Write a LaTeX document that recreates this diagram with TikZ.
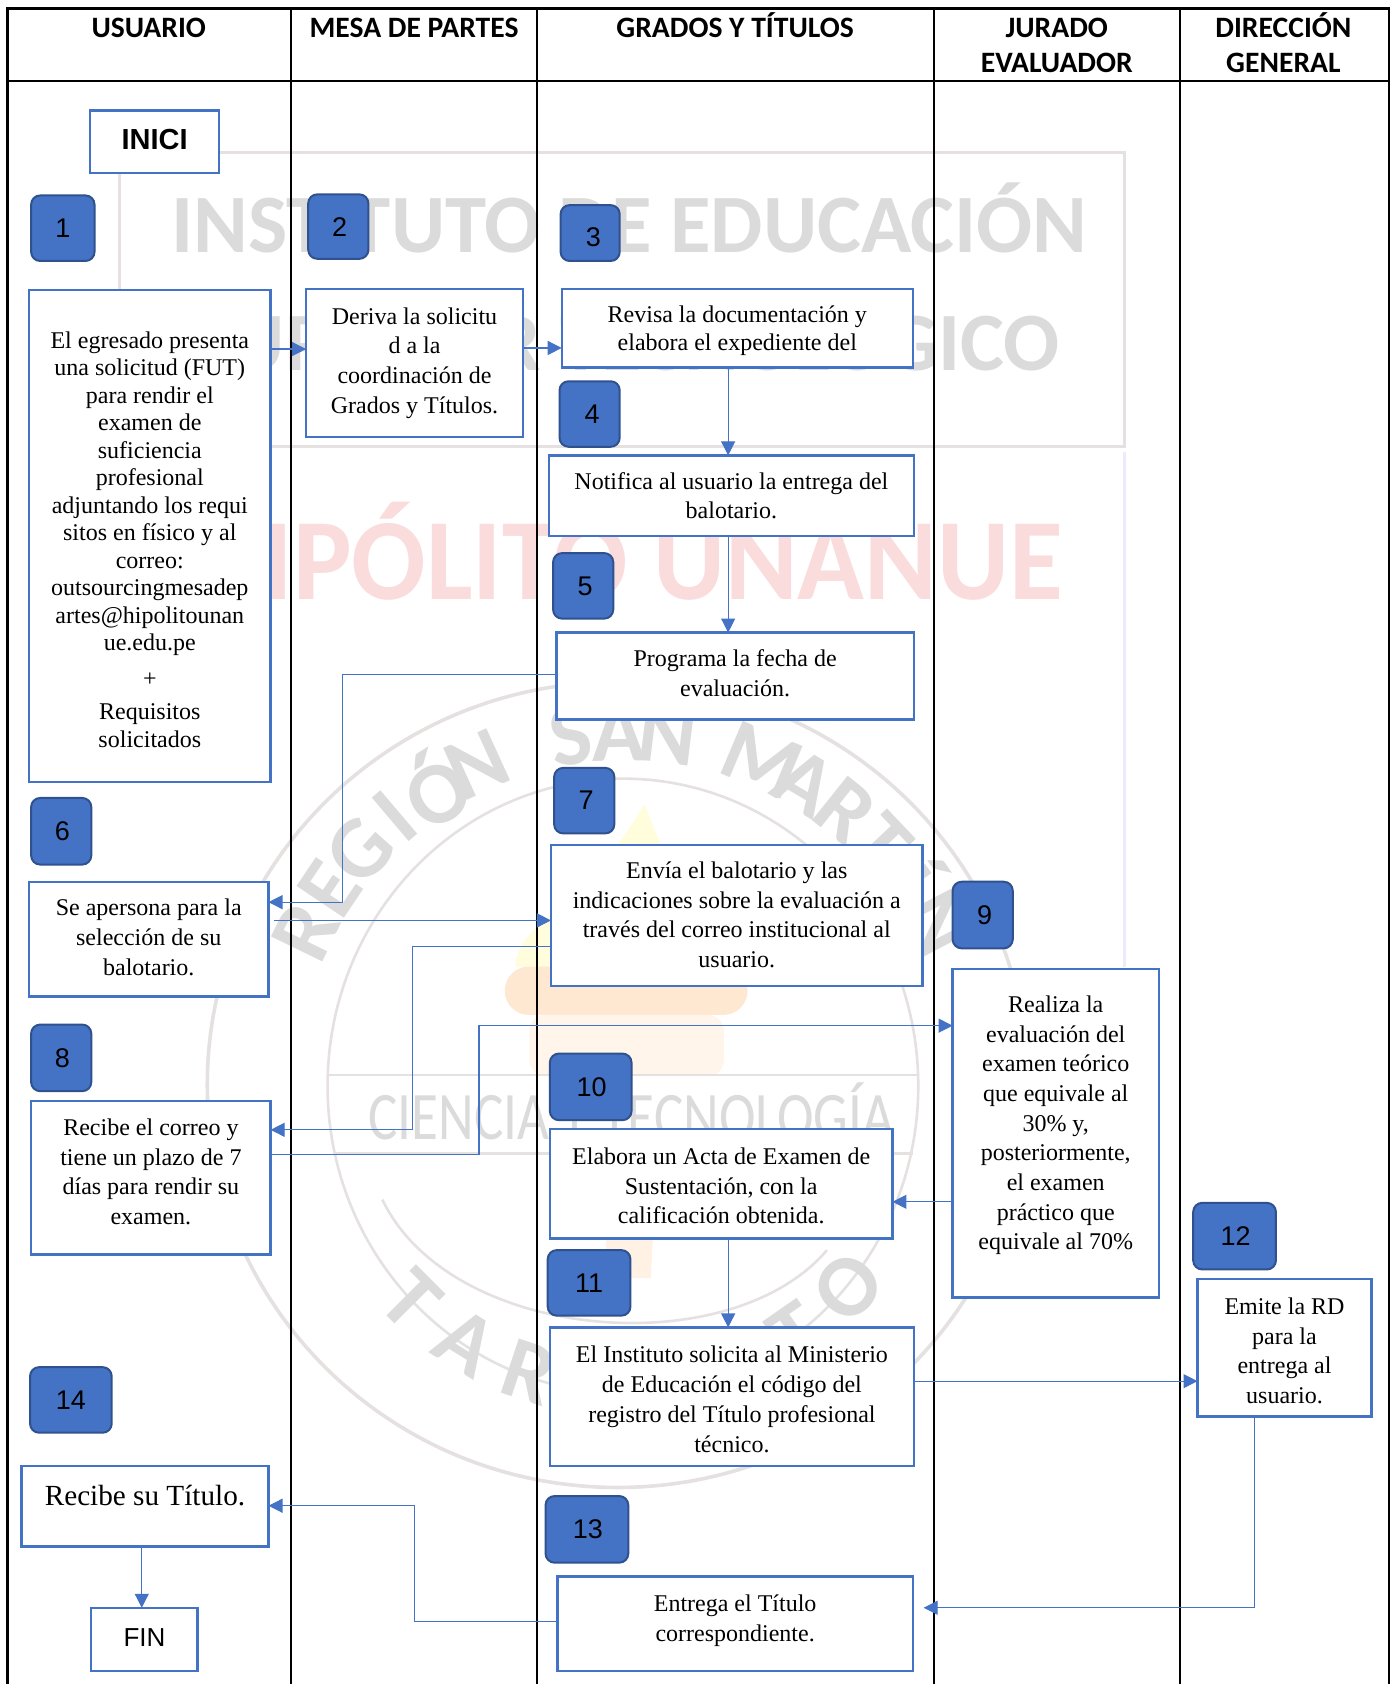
\documentclass[tikz,border=0pt]{standalone}
\usepackage{fontspec}
\setmainfont{Liberation Serif}
\newfontfamily\hdfont{Carlito}
\newfontfamily\arialf{Liberation Sans}
\usetikzlibrary{arrows.meta,calc}
\definecolor{bl}{HTML}{4472C4}
\definecolor{bld}{HTML}{2F528F}
\definecolor{wmg}{HTML}{DBDBDB}
\definecolor{wml}{HTML}{E6E1E1}
\definecolor{wmr}{HTML}{FADCDC}
\tikzset{
 box/.style={draw=bl,line width=1.2pt,fill=white,inner sep=0pt,outer sep=0pt,align=center,text=black},
 num/.style={draw=bld,line width=1pt,fill=bl,rounded corners=4.5pt,inner sep=0pt,outer sep=0pt,align=center,text=black,font=\arialf\fontsize{13.5}{16}\selectfont},
 link/.style={draw=bl,line width=0.6pt,-{Triangle[length=7pt,width=7pt]}},
 grid/.style={draw=black,line width=1.1pt},
 hd/.style={font=\hdfont\bfseries\fontsize{14.8}{17.7}\selectfont,align=center,inner sep=0pt,text=black},
 bodyA/.style={font=\fontsize{12}{13.75}\selectfont},
 bodyB/.style={font=\fontsize{12}{14.85}\selectfont},
 wmt/.style={inner sep=0pt,font=\hdfont\bfseries\fontsize{41.5}{44}\selectfont,text=wmg},
 wmseal/.style={inner sep=0pt,font=\hdfont\bfseries\fontsize{44}{46}\selectfont,text=wmg},
}
\newcommand\bx[7][]{%
 \pgfmathsetmacro\bxcx{(#3+#5)/2}\pgfmathsetmacro\bxcy{(#4+#6)/2}%
 \pgfmathsetmacro\bxw{(#5-#3)*0.53695}\pgfmathsetmacro\bxh{(#6-#4)*0.53695}%
 \node[#1,minimum width=\bxw pt,minimum height=\bxh pt] (#2) at (\bxcx,\bxcy) {#7};}
\newcommand\dn[1]{\rule{0pt}{#1pt}}
\newcommand\up[1]{\rule[-#1pt]{0pt}{#1pt}}
\newcommand\rt[1]{\hspace*{#1pt}}
\begin{document}
\begin{tikzpicture}[x=0.53695pt,y=-0.53695pt]
\useasboundingbox (0,0) rectangle (1299,1568);
\fill[white] (0,0) rectangle (1299,1568);
% watermark
\draw[wml,line width=1.3pt] (111,270) -- (111,142) -- (1047,142) -- (1047,416) -- (111,416);
\draw[black!10!blue!8,line width=1.6pt] (1047,421) -- (1047,900);
\node[wmt,anchor=base east] (wm1) at (1013,235) {INSTITUTO DE EDUCACIÓN};
\node[wmt,anchor=base east] (wm2) at (987,345) {SUPERIOR TECNOLÓGICO};
\node[inner sep=0pt,anchor=base east,text=wmr,font=\hdfont\bfseries\fontsize{58}{60}\selectfont,xscale=0.95,transform shape] (wm3) at (990,558) {HIPÓLITO UNANUE};
\fill[yellow!14] (600,749) .. controls (620,800) and (640,840) .. (650,900) -- (480,900) .. controls (480,860) and (540,850) .. (600,749);
\fill[orange!18,rounded corners=12pt] (470,900) rectangle (696,945);
\fill[orange!8,rounded corners=8pt] (493,945) rectangle (674,1002);
\fill[orange!10] (560,1075) -- (612,1075) -- (606,1190) -- (566,1190) -- cycle;
\draw[wml,line width=1.8pt] (575,1010) ellipse [x radius=382,y radius=375];
\draw[wml,line width=1.3pt] (580,1011) ellipse [x radius=275,y radius=286];
\draw[wml,line width=1.3pt] (305,1001) -- (856,1001);
\draw[wml,line width=1.3pt] (312,1074) -- (850,1074);
\draw[wml,line width=1.3pt] (356,1117) .. controls (420,1250) and (680,1270) .. (770,1164);
\node[inner sep=0pt,anchor=base,text=wmg,font=\hdfont\fontsize{34}{36}\selectfont,xscale=0.81,transform shape] (wm4) at (588,1061) {CIENCIA Y TECNOLOGÍA};
\foreach \ch [count=\i from 0] in {R,E,G,I,Ó,N,,S,A,N,,M,A,R,T,Í,N}{
 \pgfmathsetmacro\ang{154-7.9*\i}
 \node[wmseal,rotate=\ang-90] (wmr\i) at ({581+330*cos(\ang)},{1012-330*sin(\ang)}) {\ch};
}
\foreach \ch [count=\i from 0] in {T,A,R,A,P,O,T,O}{
 \pgfmathsetmacro\ang{225+13.3*\i}
 \node[wmseal,rotate=\ang+90] (wmb\i) at ({581+280*cos(\ang)},{1012-280*sin(\ang)}) {\ch};
}
% table
\draw[grid] (7,1568) -- (7,8) -- (1293,8) -- (1293,1568);
\draw[grid] (7,75.5) -- (1293,75.5);
\draw[grid] (271,8) -- (271,1568);
\draw[grid] (500,8) -- (500,1568);
\draw[grid] (869.5,8) -- (869.5,1568);
\draw[grid] (1099,8) -- (1099,1568);
\node[hd] (h1) at (138.5,26.6) {\dn{13}\up{4}USUARIO};
\node[hd] (h2) at (385.5,26.6) {\dn{13}\up{4}MESA DE PARTES};
\node[hd] (h3) at (684.5,26.6) {\dn{13}\up{4}GRADOS Y TÍTULOS};
\node[hd] (h4) at (984,43.1) {\dn{13}JURADO\\\up{4}EVALUADOR};
\node[hd] (h5) at (1195,43.1) {\dn{13}DIRECCIÓN\\\up{4}GENERAL};
% start
\bx[box,font=\arialf\bfseries\fontsize{14.5}{17}\selectfont]{ini}{84}{103}{204}{161}{\up{2}INICI}
% numbers
\bx[num]{n1}{29}{182}{88}{243}{1}
\bx[num]{n2}{287}{181}{343}{241}{\rt{1.2}2}
\bx[num]{n3}{522}{191}{577}{243}{\dn{14}\rt{3.2}3}
\bx[num]{n4}{521}{355}{577}{416}{\rt{2.4}4}
\bx[num]{n5}{515}{515}{571}{576}{\rt{2}5}
\bx[num]{n6}{29}{743}{85}{805}{\rt{1.2}6}
\bx[num]{n7}{516}{715}{572}{776}{\rt{2}7}
\bx[num]{n8}{29}{954}{85}{1016}{\rt{1.2}8}
\bx[num]{n9}{887}{821}{943}{883}{\rt{2}9}
\bx[num]{n10}{512}{981}{588}{1043}{\rt{1}10}
\bx[num]{n11}{510}{1164}{587}{1225}{11}
\bx[num]{n12}{1111}{1120}{1188}{1182}{\rt{1}12}
\bx[num]{n13}{508}{1393}{585}{1455}{\rt{1}13}
\bx[num]{n14}{28}{1273}{104}{1334}{14}
% boxes
\bx[box,bodyA]{a}{27}{270}{252}{728}{\dn{12}El egresado presenta\\una solicitud (FUT)\\para rendir el\\examen de\\suficiencia\\profesional\\adjuntando los requi\\sitos en físico y al\\correo:\\outsourcingmesadep\\artes@hipolitounan\\ue.edu.pe\\[4pt]+\\[3pt]Requisitos\\solicitados}
\bx[box,bodyB]{b}{285}{269}{487}{407}{Deriva la solicitu\\d a la\\coordinación de\\Grados y Títulos.}
\bx[box,bodyB]{c}{523}{269}{850}{342}{\dn{11.3}Revisa la documentación y\\[-0.8pt]elabora el expediente del}
\bx[box,bodyB]{d}{511}{424}{851}{499}{Notifica al usuario la entrega del\\balotario.}
\bx[box,bodyB]{e}{518}{589}{851}{670}{Programa la fecha de\\evaluación.\up{2.7}}
\bx[box,bodyB]{f}{27}{821}{250}{928}{Se apersona para la\\selección de su\\balotario.\up{2}}
\bx[box,bodyB]{g}{513}{787}{859}{918}{Envía el balotario y las\\indicaciones sobre la evaluación a\\través del correo institucional al\\usuario.\up{1}}
\bx[box,bodyB]{h}{29}{1025}{252}{1168}{Recibe el correo y\\tiene un plazo de 7\\días para rendir su\\examen.\up{6}}
\bx[box,bodyB]{i}{887}{902}{1079}{1208}{Realiza la\\evaluación del\\examen teórico\\que equivale al\\30\% y,\\posteriormente,\\el examen\\práctico que\\equivale al 70\%\up{10.2}}
\bx[box,bodyB]{j}{512}{1051}{831}{1153}{\dn{10.9}Elabora un Acta de Examen de\\Sustentación, con la\\calificación obtenida.}
\bx[box,bodyB]{k}{512}{1236}{851}{1365}{\dn{10.9}El Instituto solicita al Ministerio\\de Educación el código del\\registro del Título profesional\\técnico.}
\bx[box,bodyB]{l}{1115}{1191}{1277}{1319}{\dn{11.4}Emite la RD\\para la\\entrega al\\usuario.}
\bx[box,font=\fontsize{14.6}{17}\selectfont]{m}{20}{1365}{250}{1440}{\up{11}Recibe su Título.}
\bx[box,bodyB]{o}{519}{1468}{850}{1556}{Entrega el Título\\correspondiente.\up{5.8}}
\bx[box,font=\arialf\fontsize{13}{16}\selectfont]{fin}{85}{1497}{184}{1556}{\up{2}FIN}
% connectors
\draw[link] (a.east |- 0,325) -- (b.west |- 0,325);
\draw[link] (b.east |- 0,324) -- (c.west |- 0,324);
\draw[link] (c.south -| 678,0) -- (d.north -| 678,0);
\draw[link] (d.south -| 678,0) -- (e.north -| 678,0);
\draw[link] (e.west |- 0,628) -- (319,628) -- (319,840) -- (f.east |- 0,840);
\draw[link,shorten <=2.7pt] (f.east |- 0,857) -- (g.west |- 0,857);
\draw[link] (g.west |- 0,881) -- (384,881) -- (384,1052) -- (h.east |- 0,1052);
\draw[link] (h.east |- 0,1075) -- (446,1075) -- (446,955) -- (i.west |- 0,955);
\draw[link] (i.west |- 0,1119) -- (j.east |- 0,1119);
\draw[link] (j.south -| 678,0) -- (k.north -| 678,0);
\draw[link] (k.east |- 0,1286) -- (l.west |- 0,1286);
\draw[link,shorten >=5.4pt] (l.south -| 1168,0) -- (1168,1497) -- (o.east |- 0,1497);
\draw[link] (o.west |- 0,1510) -- (386,1510) -- (386,1402) -- (m.east |- 0,1402);
\draw[link] (m.south -| 132,0) -- (fin.north -| 132,0);
\end{tikzpicture}
\end{document}
